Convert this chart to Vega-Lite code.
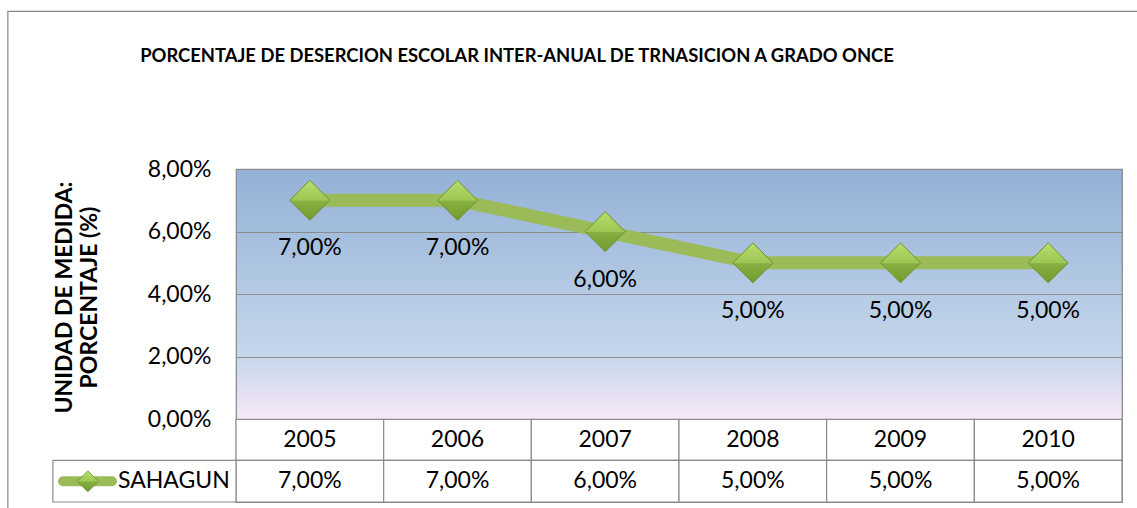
{
  "$schema": "https://vega.github.io/schema/vega-lite/v6.json",
  "autosize": "none",
  "width": 886,
  "height": 333,
  "padding": {"left": 236, "top": 169, "right": 15, "bottom": 6},
  "background": "#ffffff",
  "title": {
    "text": "PORCENTAJE  DE DESERCION ESCOLAR INTER-ANUAL DE TRNASICION A GRADO ONCE",
    "anchor": "middle",
    "frame": "group",
    "dx": -162,
    "offset": -70,
    "baseline": "alphabetic",
    "font": "Lato",
    "fontSize": 18.4,
    "fontWeight": "bold",
    "color": "#000000"
  },
  "datasets": {
    "main": [
      {"year": 2005, "value": 0.07},
      {"year": 2006, "value": 0.07},
      {"year": 2007, "value": 0.06},
      {"year": 2008, "value": 0.05},
      {"year": 2009, "value": 0.05},
      {"year": 2010, "value": 0.05}
    ],
    "series": [{"series": "SAHAGUN"}]
  },
  "layer": [
    {
      "data": {"name": "series"},
      "mark": {"type": "rect", "fill": null, "stroke": "#868686", "strokeWidth": 1.2},
      "encoding": {
        "x": {"datum": 2002.955, "type": "quantitative", "scale": {"domain": [2004.5, 2010.5], "nice": false, "zero": false}, "axis": null},
        "x2": {"datum": 2011.2},
        "y": {"datum": 0.1304, "type": "quantitative", "scale": {"domain": [-0.02643, 0.08], "nice": false, "zero": false}},
        "y2": {"datum": -0.05}
      }
    },
    {
      "data": {"name": "main"},
      "mark": {"type": "bar", "width": 147.67, "fill": "#ffffff", "stroke": "#8c8c8c", "strokeWidth": 1.2},
      "encoding": {
        "x": {"field": "year", "type": "quantitative", "scale": {"domain": [2004.5, 2010.5], "nice": false, "zero": false}, "axis": null},
        "y": {"datum": 0, "type": "quantitative", "scale": {"domain": [-0.02643, 0.08], "nice": false, "zero": false}},
        "y2": {"datum": -0.0131}
      }
    },
    {
      "data": {"name": "main"},
      "mark": {"type": "bar", "width": 147.67, "fill": "#ffffff", "stroke": "#8c8c8c", "strokeWidth": 1.2},
      "encoding": {
        "x": {"field": "year", "type": "quantitative", "scale": {"domain": [2004.5, 2010.5], "nice": false, "zero": false}, "axis": null},
        "y": {"datum": -0.0131, "type": "quantitative", "scale": {"domain": [-0.02643, 0.08], "nice": false, "zero": false}},
        "y2": {"datum": -0.02643}
      }
    },
    {
      "data": {"name": "series"},
      "mark": {"type": "rect", "fill": "#ffffff", "stroke": "#8c8c8c", "strokeWidth": 1.2},
      "encoding": {
        "x": {"datum": 2003.26, "type": "quantitative", "scale": {"domain": [2004.5, 2010.5], "nice": false, "zero": false}, "axis": null},
        "x2": {"datum": 2004.5},
        "y": {"datum": -0.0131, "type": "quantitative", "scale": {"domain": [-0.02643, 0.08], "nice": false, "zero": false}},
        "y2": {"datum": -0.02643}
      }
    },
    {
      "data": {"name": "main"},
      "mark": {"type": "text", "font": "Lato", "fontSize": 23, "color": "#000000", "baseline": "middle", "align": "center"},
      "encoding": {
        "x": {"field": "year", "type": "quantitative", "scale": {"domain": [2004.5, 2010.5], "nice": false, "zero": false}, "axis": null},
        "y": {"datum": -0.0067, "type": "quantitative", "scale": {"domain": [-0.02643, 0.08], "nice": false, "zero": false}},
        "text": {"field": "year", "type": "quantitative", "format": "d"}
      }
    },
    {
      "data": {"name": "main"},
      "mark": {"type": "text", "font": "Lato", "fontSize": 23, "color": "#000000", "baseline": "middle", "align": "center"},
      "encoding": {
        "x": {"field": "year", "type": "quantitative", "scale": {"domain": [2004.5, 2010.5], "nice": false, "zero": false}, "axis": null},
        "y": {"datum": -0.01982, "type": "quantitative", "scale": {"domain": [-0.02643, 0.08], "nice": false, "zero": false}},
        "text": {"field": "value", "type": "quantitative", "format": ".2%"}
      }
    },
    {
      "data": {"name": "series"},
      "mark": {"type": "rule", "color": "#9BBB59", "strokeWidth": 10, "strokeCap": "round"},
      "encoding": {
        "x": {"datum": 2003.329, "type": "quantitative", "scale": {"domain": [2004.5, 2010.5], "nice": false, "zero": false}, "axis": null},
        "x2": {"datum": 2003.66},
        "y": {"datum": -0.01982, "type": "quantitative", "scale": {"domain": [-0.02643, 0.08], "nice": false, "zero": false}}
      }
    },
    {
      "data": {"name": "series"},
      "mark": {"type": "point", "shape": "diamond", "size": 441, "filled": true, "opacity": 1, "strokeWidth": 0.8, "stroke": "#6f8f30",
        "fill": {"gradient": "linear", "x1": 0, "y1": 0, "x2": 0, "y2": 1, "stops": [
          {"offset": 0, "color": "#B9DE6E"}, {"offset": 0.5, "color": "#9DC653"}, {"offset": 0.52, "color": "#88AF42"}, {"offset": 1, "color": "#739A2E"}]}},
      "encoding": {
        "x": {"datum": 2003.497, "type": "quantitative", "scale": {"domain": [2004.5, 2010.5], "nice": false, "zero": false}, "axis": null},
        "y": {"datum": -0.01982, "type": "quantitative", "scale": {"domain": [-0.02643, 0.08], "nice": false, "zero": false}}
      }
    },
    {
      "data": {"name": "series"},
      "mark": {"type": "text", "font": "Lato", "fontSize": 23, "color": "#000000", "baseline": "middle", "align": "left"},
      "encoding": {
        "x": {"datum": 2003.701, "type": "quantitative", "scale": {"domain": [2004.5, 2010.5], "nice": false, "zero": false}, "axis": null},
        "y": {"datum": -0.01982, "type": "quantitative", "scale": {"domain": [-0.02643, 0.08], "nice": false, "zero": false}},
        "text": {"field": "series"}
      }
    },
    {
      "data": {"name": "main"},
      "mark": {"type": "line", "color": "#9BBB59", "strokeWidth": 13},
      "encoding": {
        "x": {"field": "year", "type": "quantitative", "scale": {"domain": [2004.5, 2010.5], "nice": false, "zero": false}, "axis": null},
        "y": {"field": "value", "type": "quantitative", "scale": {"domain": [-0.02643, 0.08], "nice": false, "zero": false},
          "axis": {
            "values": [0, 0.02, 0.04, 0.06, 0.08],
            "format": ".2%",
            "ticks": false,
            "domain": false,
            "grid": true,
            "gridColor": "#8c8c8c",
            "gridWidth": 1,
            "labelPadding": 25,
            "labelFont": "Lato",
            "labelFontSize": 23,
            "labelColor": "#000000",
            "title": ["UNIDAD DE MEDIDA:", "PORCENTAJE (%)"],
            "titleFont": "Lato",
            "titleFontSize": 23,
            "titleFontWeight": "bold",
            "titleColor": "#000000",
            "titleAngle": -90,
            "titleAlign": "center",
            "titleBaseline": "middle",
            "titleLineHeight": 25,
            "titleX": -172,
            "titleY": 128
          }
        }
      }
    },
    {
      "data": {"name": "main"},
      "mark": {"type": "point", "shape": "diamond", "size": 1600, "filled": true, "opacity": 1, "strokeWidth": 1, "stroke": "#6f8f30",
        "fill": {"gradient": "linear", "x1": 0, "y1": 0, "x2": 0, "y2": 1, "stops": [
          {"offset": 0, "color": "#B9DE6E"}, {"offset": 0.5, "color": "#9DC653"}, {"offset": 0.52, "color": "#88AF42"}, {"offset": 1, "color": "#739A2E"}]}},
      "encoding": {
        "x": {"field": "year", "type": "quantitative", "scale": {"domain": [2004.5, 2010.5], "nice": false, "zero": false}, "axis": null},
        "y": {"field": "value", "type": "quantitative", "scale": {"domain": [-0.02643, 0.08], "nice": false, "zero": false}}
      }
    },
    {
      "data": {"name": "main"},
      "mark": {"type": "text", "font": "Lato", "fontSize": 23, "color": "#000000", "baseline": "middle", "align": "center", "dy": 48},
      "encoding": {
        "x": {"field": "year", "type": "quantitative", "scale": {"domain": [2004.5, 2010.5], "nice": false, "zero": false}, "axis": null},
        "y": {"field": "value", "type": "quantitative", "scale": {"domain": [-0.02643, 0.08], "nice": false, "zero": false}},
        "text": {"field": "value", "type": "quantitative", "format": ".2%"}
      }
    }
  ],
  "config": {
    "locale": {"number": {"decimal": ",", "thousands": ".", "grouping": [3], "currency": ["", " €"]}},
    "scale": {"continuousPadding": 0},
    "view": {
      "stroke": "#868686",
      "strokeWidth": 1.2,
      "fill": {"gradient": "linear", "x1": 0, "y1": 0, "x2": 0, "y2": 1, "stops": [
        {"offset": 0, "color": "#93B1D6"},
        {"offset": 0.5631, "color": "#C6D7EB"},
        {"offset": 0.7508, "color": "#F8E7F7"},
        {"offset": 0.751, "color": "#FFFFFF"},
        {"offset": 1, "color": "#FFFFFF"}
      ]}
    }
  }
}
